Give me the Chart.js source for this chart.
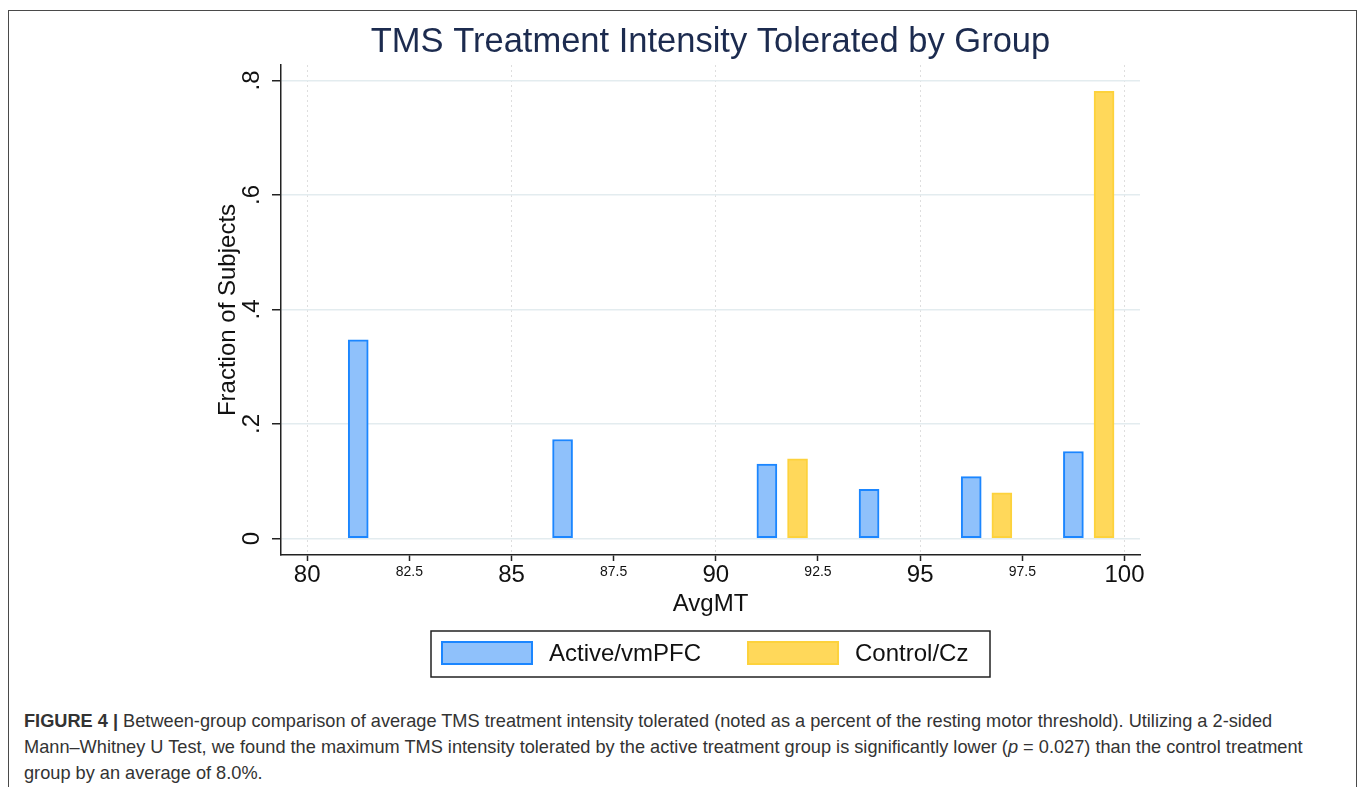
<!DOCTYPE html>
<html>
<head>
<meta charset="utf-8">
<script src="https://cdn.jsdelivr.net/npm/chart.js@4.4.1/dist/chart.umd.min.js"></script>
<style>
  html, body { margin: 0; padding: 0; background: #fff; width: 1357px; height: 787px; overflow: hidden;
    font-family: 'Liberation Sans', Arial, Helvetica, sans-serif; }
  #frame { position: absolute; left: 8px; top: 10px; width: 1347px; height: 800px;
    border: 1px solid #4a4a4a; border-bottom: none; }
  #histChart { position: absolute; left: 0; top: 0; }
  #caption { position: absolute; left: 24px; top: 708px; width: 1320px; font-size: 18.2px;
    line-height: 26px; color: #333; white-space: nowrap; }
</style>
</head>
<body>
<div id="frame"></div>
<canvas id="histChart" width="1357" height="690"></canvas>
<div id="caption"><b>FIGURE 4 |</b> Between-group comparison of average TMS treatment intensity tolerated (noted as a percent of the resting motor threshold). Utilizing a 2-sided<br>Mann–Whitney U Test, we found the maximum TMS intensity tolerated by the active treatment group is significantly lower (<i>p</i> = 0.027) than the control treatment<br>group by an average of 8.0%.</div>
<script>
// ---- data ----
const activeX    = [81.25, 86.25, 91.25, 93.75, 96.25, 98.75];
const activeFrac = [0.347, 0.173, 0.130, 0.086, 0.108, 0.152];
const controlX    = [92.0, 97.0, 99.5];
const controlFrac = [0.139, 0.080, 0.781];

const X_MIN = 79.36, X_MAX = 100.38, X_STEP = 2.5;
const Y_MIN = -0.0288, Y_MAX = 0.827, Y_STEP = 0.2;

const BLUE_FILL = '#8fc1fb', BLUE_LINE = '#1b86ff';
const GOLD_FILL = '#ffd85a', GOLD_LINE = '#fdd23c';

const FONT = "'Liberation Sans', Arial, Helvetica, sans-serif";
Chart.defaults.font.family = FONT;
Chart.defaults.color = '#111';

const isMajor = (v) => Math.abs(v % 5) < 1e-6;
const pts = (xs, ys) => xs.map((x, i) => ({ x, y: ys[i] }));

// legend with a frame round it, drawn from the datasets
const boxedLegend = {
  id: 'boxedLegend',
  afterDraw(chart) {
    const { ctx, chartArea } = chart;
    const w = 559, h = 46, top = 631;
    const left = (chartArea.left + chartArea.right) / 2 - w / 2;
    ctx.save();
    ctx.strokeStyle = '#222';
    ctx.lineWidth = 1.5;
    ctx.strokeRect(left, top, w, h);
    ctx.font = '24px ' + FONT;
    ctx.textBaseline = 'middle';
    let x = left + 10;
    chart.data.datasets.forEach((ds) => {
      ctx.fillStyle = ds.backgroundColor;
      ctx.fillRect(x, top + 10, 92, 24);
      ctx.strokeStyle = ds.borderColor;
      ctx.lineWidth = 2;
      ctx.strokeRect(x + 1, top + 11, 90, 22);
      ctx.fillStyle = '#111';
      ctx.fillText(ds.label, x + 92 + 16, top + 23);
      x += 92 + 16 + ctx.measureText(ds.label).width + 46;
    });
    ctx.restore();
  }
};

new Chart(document.getElementById('histChart').getContext('2d'), {
  type: 'bar',
  data: {
    datasets: [
      { label: 'Active/vmPFC', data: pts(activeX, activeFrac), backgroundColor: BLUE_FILL, borderColor: BLUE_LINE,
        borderWidth: 2, borderSkipped: false, barThickness: 20, grouped: false },
      { label: 'Control/Cz', data: pts(controlX, controlFrac), backgroundColor: GOLD_FILL, borderColor: GOLD_LINE,
        borderWidth: 2, borderSkipped: false, barThickness: 20, grouped: false },
    ],
  },
  options: {
    responsive: false, animation: false,
    layout: { padding: { left: 0, right: 217, top: 0, bottom: 71 } },
    plugins: {
      legend: { display: false },
      tooltip: { enabled: false },
      title: {
        display: true, fullSize: false, text: 'TMS Treatment Intensity Tolerated by Group',
        color: '#1c2b4f', font: { size: 34.5, weight: 'normal' }, padding: { top: 21.5, bottom: 2.1 },
      },
    },
    scales: {
      x: {
        type: 'linear', min: X_MIN, max: X_MAX, offset: false,
        grid: {
          color: (c) => (c.tick && isMajor(c.tick.value) ? '#dedede' : 'rgba(0,0,0,0)'),
          lineWidth: 1, tickColor: '#222', tickLength: 6, tickWidth: 1.5, offset: false,
        },
        border: { color: '#222', width: 1.5, dash: [2, 3] },
        ticks: {
          stepSize: X_STEP, includeBounds: false, autoSkip: false, maxRotation: 0, padding: 0, color: '#111',
          font: (c) => (c.tick && isMajor(c.tick.value) ? { size: 24 } : { size: 14, lineHeight: '22px' }),
          callback: (v) => String(v),
        },
        title: { display: true, text: 'AvgMT', color: '#111', font: { size: 24 }, padding: { top: 0, bottom: 0 } },
        afterFit: (s) => { s.height = 64; },
      },
      y: {
        min: Y_MIN, max: Y_MAX,
        grid: { color: '#e3ecef', lineWidth: 1.5, tickColor: '#222', tickLength: 9, tickWidth: 1.5 },
        border: { color: '#222', width: 1.5 },
        ticks: {
          stepSize: Y_STEP, includeBounds: false, minRotation: 90, maxRotation: 90, crossAlign: 'center',
          padding: 10, color: '#111', font: { size: 24 },
          callback: (v) => (v === 0 ? '0' : String(+v.toFixed(1)).replace(/^0/, '')),
        },
        title: { display: true, text: 'Fraction of Subjects', color: '#111', font: { size: 24 },
          padding: { top: 213.6, bottom: 0 } },
        afterFit: (s) => { s.width = 281; },
      },
    },
  },
  plugins: [boxedLegend],
});
</script>
</body>
</html>
